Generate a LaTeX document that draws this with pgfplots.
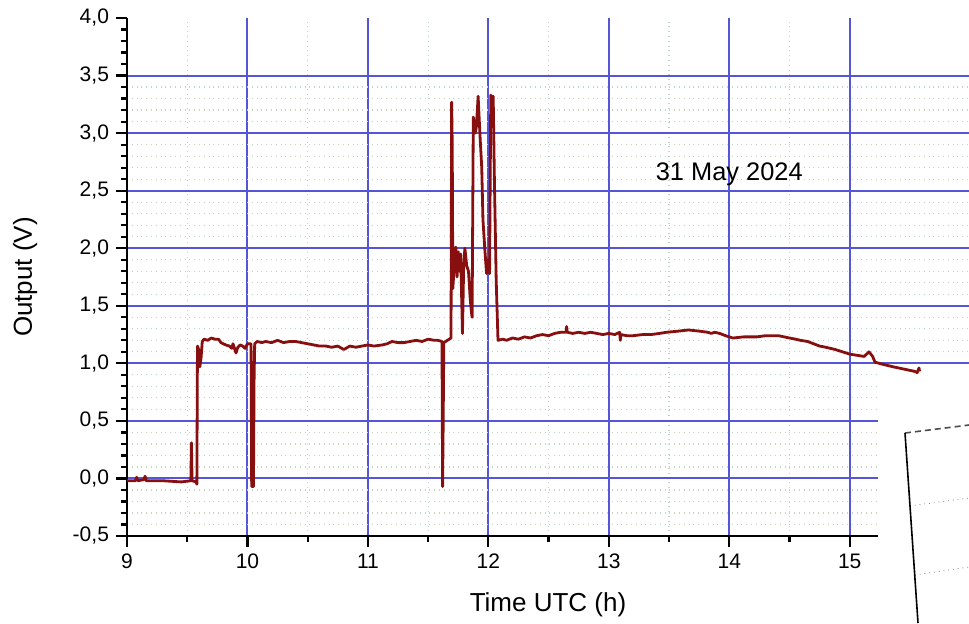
\documentclass[border=0pt]{standalone}
\usepackage{fontspec}
\setmainfont{Liberation Sans}
\usepackage{pgfplots}
\pgfplotsset{compat=1.18}

\definecolor{trace}{RGB}{135,15,15}
\definecolor{majgrid}{RGB}{85,85,215}
\definecolor{mingrid}{RGB}{190,215,190}

\pgfplotsset{
    common/.style={
        at={(0pt,0pt)}, anchor=south west,
        scale only axis,
        width=421pt, height=259pt,
        xmin=9, xmax=15.99,
        ymin=-0.5, ymax=4.0,
        axis x line*=bottom,
        axis y line*=left,
        minor x tick num=1,
        minor y tick num=4,
    },
}

\begin{document}
\begin{tikzpicture}
\path[use as bounding box] (-63.5pt,-43.5pt) rectangle (421pt,268pt);
% background grid and thick axis lines
\begin{axis}[
    common,
    axis line style={black, line width=1pt},
    xtick={9,...,15},
    ytick={-0.5,0,...,3.5},
    major tick length=0pt,
    minor tick length=0pt,
    xticklabels={}, yticklabels={},
    grid=both,
    major grid style={majgrid, line width=1pt},
    minor grid style={mingrid, dotted, line width=0.6pt},
]
\end{axis}
% ticks, labels, data
\begin{axis}[
    common,
    xtick={9,...,15},
    ytick={-0.5,0,...,4.0},
    tick align=outside,
    major tick length=5.5pt,
    minor tick length=3pt,
    tick style={black, line width=1.1pt},
    /pgf/number format/assume math mode=true,
    /pgf/number format/use comma,
    yticklabel style={/pgf/number format/fixed, /pgf/number format/fixed zerofill, /pgf/number format/precision=1},
    ticklabel style={font=\fontsize{10.5}{12}\selectfont},
    xlabel={Time UTC (h)},
    ylabel={Output (V)},
    label style={font=\fontsize{13}{15}\selectfont},
    xlabel style={at={(axis description cs:0.5,-0.133)}, anchor=center},
    ylabel style={at={(axis description cs:-0.121,0.5)}, anchor=center},
]
\addplot[trace, line width=1.4pt, line join=round] coordinates {
(9.00,-0.02) (9.07,-0.02) (9.08,0.01) (9.09,-0.02) (9.14,-0.01) (9.15,0.02)
(9.16,-0.02) (9.30,-0.02) (9.45,-0.03) (9.53,-0.02) (9.535,0.31) (9.54,-0.02)
(9.575,-0.03) (9.58,-0.05) (9.585,1.15) (9.595,1.12) (9.605,0.97) (9.615,1.05)
(9.625,1.19) (9.64,1.21) (9.67,1.20) (9.70,1.22) (9.73,1.21) (9.76,1.21)
(9.78,1.18) (9.80,1.17) (9.82,1.16) (9.85,1.15) (9.87,1.13) (9.88,1.17)
(9.905,1.09) (9.92,1.14) (9.94,1.16) (9.96,1.15) (9.98,1.13) (10.00,1.17)
(10.03,1.17) (10.035,-0.07) (10.05,-0.07) (10.055,0.85) (10.06,1.17)
(10.08,1.19) (10.12,1.18) (10.15,1.19) (10.20,1.18) (10.25,1.20) (10.30,1.18)
(10.35,1.19) (10.40,1.19) (10.45,1.18) (10.50,1.17) (10.55,1.16) (10.60,1.15)
(10.65,1.15) (10.70,1.14) (10.75,1.15) (10.80,1.12) (10.85,1.15) (10.90,1.14)
(10.95,1.15) (11.00,1.16) (11.05,1.15) (11.12,1.16) (11.16,1.17) (11.20,1.19)
(11.25,1.18) (11.30,1.18) (11.35,1.19) (11.40,1.20) (11.45,1.19) (11.50,1.21)
(11.55,1.20) (11.58,1.20) (11.615,1.19) (11.62,-0.07) (11.625,0.5) (11.63,1.18)
(11.66,1.20) (11.69,1.22)
(11.695,3.27) (11.70,2.90) (11.705,1.65) (11.72,1.90) (11.73,2.01) (11.74,1.75)
(11.75,1.97) (11.76,1.80) (11.77,1.95) (11.785,1.26) (11.795,1.85) (11.805,2.00)
(11.82,1.85) (11.835,1.80) (11.85,1.55) (11.86,1.44) (11.865,1.40) (11.875,3.14)
(11.89,3.00) (11.90,3.05) (11.915,3.32) (11.93,2.99) (11.945,2.70) (11.955,2.25)
(11.97,2.00) (11.985,1.78) (11.995,1.90) (12.01,1.78) (12.02,3.33) (12.03,3.30)
(12.04,3.32) (12.05,2.60) (12.065,1.72) (12.08,1.20) (12.12,1.21) (12.15,1.20)
(12.20,1.22) (12.25,1.21) (12.30,1.23) (12.35,1.22) (12.40,1.24) (12.45,1.25)
(12.50,1.24) (12.55,1.26) (12.60,1.27) (12.645,1.27) (12.65,1.32) (12.655,1.27)
(12.70,1.26) (12.75,1.27) (12.80,1.26) (12.85,1.27) (12.90,1.26) (12.95,1.25)
(13.00,1.26) (13.05,1.25) (13.09,1.27) (13.095,1.20) (13.10,1.25) (13.15,1.24)
(13.20,1.24) (13.28,1.25) (13.35,1.25) (13.42,1.26) (13.48,1.27) (13.58,1.28)
(13.66,1.29) (13.75,1.28) (13.82,1.27) (13.85,1.26) (13.88,1.27) (13.92,1.26)
(13.97,1.24) (14.03,1.22) (14.12,1.23) (14.23,1.23) (14.30,1.24) (14.35,1.24)
(14.41,1.24) (14.50,1.22) (14.55,1.21) (14.59,1.20) (14.65,1.19) (14.70,1.17)
(14.75,1.15) (14.80,1.14) (14.88,1.12) (14.94,1.10) (15.00,1.08) (15.06,1.07)
(15.12,1.06) (15.16,1.10) (15.19,1.06) (15.21,1.01) (15.28,0.99) (15.36,0.97)
(15.45,0.95) (15.54,0.93) (15.56,0.92) (15.575,0.96) (15.58,0.93)
};
\node[font=\fontsize{12.7}{15}\selectfont] at (axis cs:14.0,2.64) {31 May 2024};
\end{axis}
% overlapping piece of another picture, bottom right
\fill[white] (375.5pt,-43.5pt) rectangle (421pt,81pt);
\draw[gray, dotted, line width=0.4pt] (391.5pt,15pt) -- (421pt,19pt);
\draw[gray, dotted, line width=0.4pt] (394pt,-19.5pt) -- (421pt,-15.5pt);
\draw[black!70, densely dashed, line width=0.8pt] (389pt,51.5pt) -- (421pt,55.5pt);
\draw[black, line width=0.8pt] (389pt,51.5pt) -- (395.5pt,-43.5pt);
\end{tikzpicture}
\end{document}
